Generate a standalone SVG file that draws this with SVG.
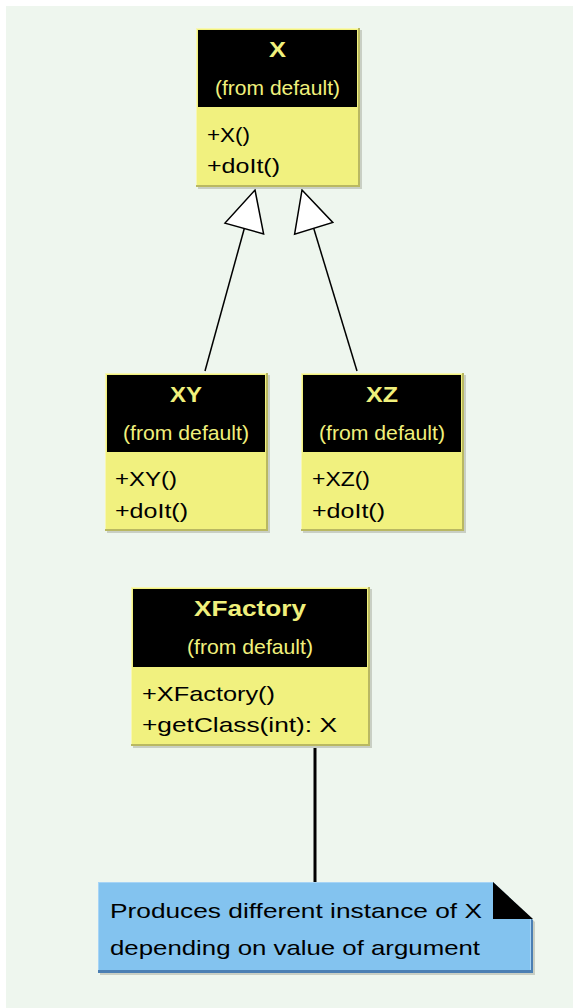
<svg xmlns="http://www.w3.org/2000/svg" width="573" height="1008" viewBox="0 0 573 1008">
  <style>
    .shadow { fill: #c9cfc4; }
    .edge { fill: #b9b862; }
    .hi { fill: #f7f7b4; }
    .body { fill: #f1f17f; }
    .head { fill: #000000; }
    .title { font-family: "Liberation Sans", Arial, sans-serif; font-size: 22px; font-weight: bold; fill: #f0f07c; text-anchor: middle; }
    .from { font-family: "Liberation Sans", Arial, sans-serif; font-size: 21px; fill: #f0f07c; text-anchor: middle; }
    .member { font-family: "Liberation Sans", Arial, sans-serif; font-size: 21px; fill: #000000; }
    .note { font-family: "Liberation Sans", Arial, sans-serif; font-size: 21px; fill: #000000; }
    .gen { fill: none; stroke: #000000; stroke-width: 1.5; }
    .tri { fill: #ffffff; stroke: #000000; stroke-width: 1.5; stroke-linejoin: miter; }
  </style>
  <rect x="0" y="0" width="573" height="1008" fill="#ffffff"/>
  <rect x="6" y="6" width="567" height="1002" fill="#eef6ee"/>

  <g id="connectors">
    <line class="gen" x1="205" y1="371" x2="244.3" y2="228.5"/>
    <polygon class="tri" points="255,190 263.6,233.9 225,223.1"/>
    <line class="gen" x1="357" y1="371" x2="313.7" y2="228.3"/>
    <polygon class="tri" points="302,190 332.8,222.5 294.6,234.1"/>
    <line x1="315" y1="745" x2="315" y2="883" stroke="#000000" stroke-width="3"/>
  </g>

  <g id="X">
    <rect class="shadow" x="198" y="30" width="164" height="159"/>
    <rect class="edge" x="196" y="28" width="164" height="159"/>
    <rect class="hi" x="196" y="28" width="162" height="157"/>
    <rect class="body" x="197" y="29" width="161" height="156"/>
    <rect class="head" x="198" y="30" width="159" height="77"/>
    <text class="title" x="277.5" y="57" textLength="17" lengthAdjust="spacingAndGlyphs">X</text>
    <text class="from" x="277.5" y="95" textLength="125" lengthAdjust="spacingAndGlyphs">(from default)</text>
    <text class="member" x="207" y="142" textLength="43" lengthAdjust="spacingAndGlyphs">+X()</text>
    <text class="member" x="207" y="173" textLength="73" lengthAdjust="spacingAndGlyphs">+doIt()</text>
  </g>

  <g id="XY">
    <rect class="shadow" x="107" y="375" width="163" height="158"/>
    <rect class="edge" x="105" y="373" width="163" height="158"/>
    <rect class="hi" x="105" y="373" width="161" height="156"/>
    <rect class="body" x="106" y="374" width="160" height="155"/>
    <rect class="head" x="107" y="375" width="158" height="77"/>
    <text class="title" x="186" y="402" textLength="32" lengthAdjust="spacingAndGlyphs">XY</text>
    <text class="from" x="186" y="440" textLength="126" lengthAdjust="spacingAndGlyphs">(from default)</text>
    <text class="member" x="115" y="486" textLength="62" lengthAdjust="spacingAndGlyphs">+XY()</text>
    <text class="member" x="115" y="518" textLength="73" lengthAdjust="spacingAndGlyphs">+doIt()</text>
  </g>

  <g id="XZ">
    <rect class="shadow" x="303" y="375" width="163" height="158"/>
    <rect class="edge" x="301" y="373" width="163" height="158"/>
    <rect class="hi" x="301" y="373" width="161" height="156"/>
    <rect class="body" x="302" y="374" width="160" height="155"/>
    <rect class="head" x="303" y="375" width="158" height="77"/>
    <text class="title" x="382" y="402" textLength="32" lengthAdjust="spacingAndGlyphs">XZ</text>
    <text class="from" x="382" y="440" textLength="126" lengthAdjust="spacingAndGlyphs">(from default)</text>
    <text class="member" x="312" y="486" textLength="58" lengthAdjust="spacingAndGlyphs">+XZ()</text>
    <text class="member" x="312" y="518" textLength="73" lengthAdjust="spacingAndGlyphs">+doIt()</text>
  </g>

  <g id="XFactory">
    <rect class="shadow" x="133" y="589" width="239" height="159"/>
    <rect class="edge" x="131" y="587" width="239" height="159"/>
    <rect class="hi" x="131" y="587" width="237" height="157"/>
    <rect class="body" x="132" y="588" width="236" height="156"/>
    <rect class="head" x="133" y="589" width="234" height="78"/>
    <text class="title" x="250" y="616" textLength="112" lengthAdjust="spacingAndGlyphs">XFactory</text>
    <text class="from" x="250" y="654" textLength="126" lengthAdjust="spacingAndGlyphs">(from default)</text>
    <text class="member" x="142" y="701" textLength="133" lengthAdjust="spacingAndGlyphs">+XFactory()</text>
    <text class="member" x="142" y="732" textLength="195" lengthAdjust="spacingAndGlyphs">+getClass(int): X</text>
  </g>

  <g id="note">
    <polygon points="100,884 495,884 535,922 535,975 100,975" fill="#c9cfc4"/>
    <polygon points="98,882 493,882 533,920 533,973 98,973" fill="#4b7fb3"/>
    <polygon points="98,882 493,882 531,918 531,970 98,970" fill="#a6d4f6"/>
    <polygon points="99,883 493,883 530,918 530,970 99,970" fill="#83c3ef"/>
    <polygon points="493,882 493,919 533,919" fill="#000000"/>
    <text class="note" x="110" y="918" textLength="372" lengthAdjust="spacingAndGlyphs">Produces different instance of X</text>
    <text class="note" x="110" y="955" textLength="370" lengthAdjust="spacingAndGlyphs">depending on value of argument</text>
  </g>
</svg>
